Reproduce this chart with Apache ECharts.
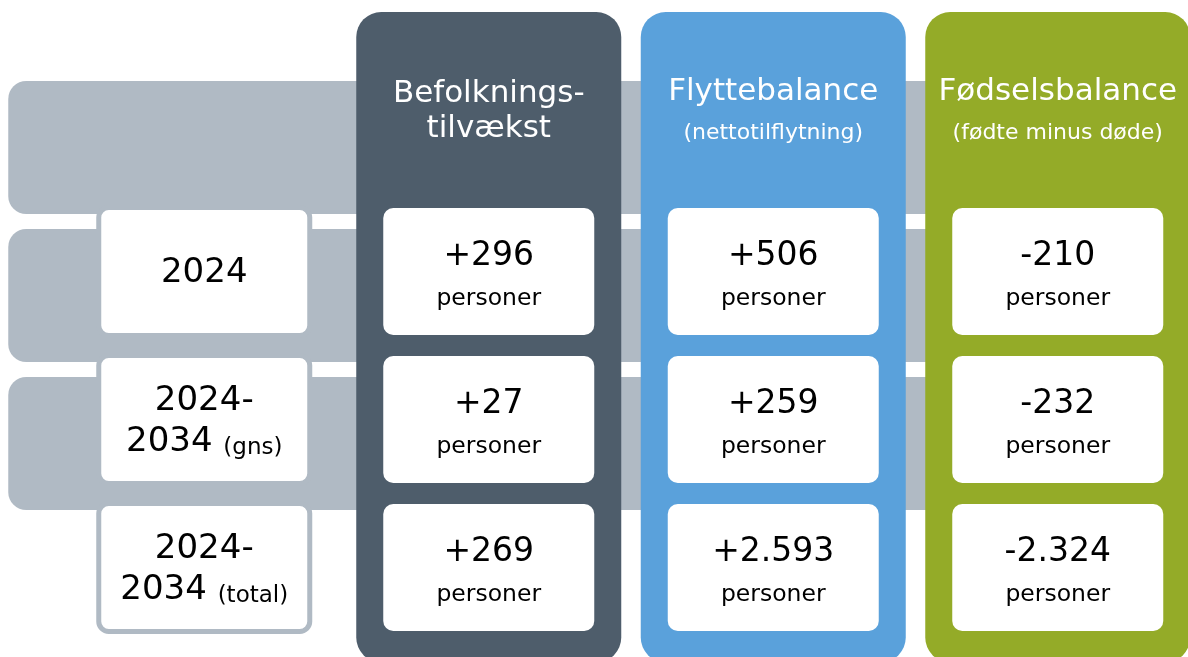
<!DOCTYPE html>
<html>
<head>
<meta charset="utf-8">
<script src="https://cdn.jsdelivr.net/npm/echarts@6/dist/echarts.min.js"></script>
<style>
html,body{margin:0;padding:0;background:#fff;}
#chart{width:1188px;height:657px;}
</style>
</head>
<body>
<div id="chart"></div>
<script>
// ---- data ----
const measures = ['Befolknings-\ntilvækst', 'Flyttebalance', 'Fødselsbalance'];
const subtitles = ['', '(nettotilflytning)', '(fødte minus døde)'];
const periods = ['2024', '2024-\n2034', '2024-\n2034'];
const periodNotes = ['', '(gns)', '(total)'];
const befolkningstilvaekst = [296, 27, 269];
const flyttebalance = [506, 259, 2593];
const foedselsbalance = [-210, -232, -2324];
const unitLabel = 'personer';

const columnColors = ['#4e5d6b', '#5aa1db', '#94ab28'];
const bandColor = '#b0bac4';
const FONT = 'DejaVu Sans';

const values = [befolkningstilvaekst, flyttebalance, foedselsbalance];
function fmt(v) {
  const s = Math.abs(v).toString().replace(/\B(?=(\d{3})+(?!\d))/g, '.');
  return (v >= 0 ? '+' : '-') + s;
}

// category axes: x = label column + 3 measures, y = header + 3 periods
const xCats = ['label'].concat(measures);
const yCats = ['header'].concat(periods.map((p, i) => p + ' ' + periodNotes[i]));

// data items
const bandData = [[0, 0], [0, 1], [0, 2]];
const columnData = measures.map((m, i) => [i + 1, 0]);
const labelData = periods.map((p, i) => [0, i + 1]);
const cellData = [];
values.forEach((arr, ci) => arr.forEach((v, ri) => cellData.push([ci + 1, ri + 1, v])));

const chart = echarts.init(document.getElementById('chart'), null, {renderer: 'canvas'});

chart.setOption({
  animation: false,
  backgroundColor: '#ffffff',
  grid: {left: 62, top: 49.5, width: 1138, height: 592, outerBoundsMode: 'none', containLabel: false},
  xAxis: {type: 'category', data: xCats, show: false},
  yAxis: {type: 'category', data: yCats, inverse: true, show: false},
  series: [
    {
      type: 'custom', name: 'bands', data: bandData, z: 1, clip: false,
      renderItem: function (params, api) {
        const row = api.value(1);
        const a = api.coord([0, row]);
        const b = api.coord([3, row]);
        const x0 = a[0] - 196, y0 = a[1] - 42.5;
        return {
          type: 'rect',
          shape: {x: x0, y: y0, width: b[0] - x0, height: 133, r: [18, 0, 0, 18]},
          style: {fill: bandColor}
        };
      }
    },
    {
      type: 'custom', name: 'columns', data: columnData, z: 2, clip: false,
      renderItem: function (params, api) {
        const col = api.value(0);
        const top = api.coord([col, 0]);
        const bot = api.coord([col, 3]);
        const i = params.dataIndex;
        const children = [{
          type: 'rect',
          shape: {x: top[0] - 132.5, y: top[1] - 111.5, width: 265, height: (bot[1] + 95) - (top[1] - 111.5), r: 25},
          style: {fill: columnColors[i]}
        }];
        if (subtitles[i]) {
          children.push({type: 'text', x: top[0], y: top[1] - 32,
            style: {text: measures[i], fill: '#fff', font: '31px "' + FONT + '"', align: 'center', verticalAlign: 'middle'}});
          children.push({type: 'text', x: top[0], y: top[1] + 10,
            style: {text: subtitles[i], fill: '#fff', font: '22px "' + FONT + '"', align: 'center', verticalAlign: 'middle'}});
        } else {
          children.push({type: 'text', x: top[0], y: top[1] - 12,
            style: {text: measures[i], fill: '#fff', font: '31px "' + FONT + '"', lineHeight: 35, align: 'center', verticalAlign: 'middle'}});
        }
        return {type: 'group', children: children};
      }
    },
    {
      type: 'custom', name: 'periods', data: labelData, z: 3, clip: false,
      renderItem: function (params, api) {
        const c = api.coord([0, api.value(1)]);
        const i = params.dataIndex;
        const lines = periods[i].split('\n');
        const children = [{
          type: 'rect',
          shape: {x: c[0] - 105.5, y: c[1] - 64, width: 211, height: 128, r: 10},
          style: {fill: '#fff', stroke: bandColor, lineWidth: 5}
        }];
        if (lines.length === 1) {
          children.push({type: 'text', x: c[0], y: c[1] + 2,
            style: {text: lines[0], fill: '#000', font: '34px "' + FONT + '"', align: 'center', verticalAlign: 'middle'}});
        } else {
          children.push({type: 'text', x: c[0], y: c[1] - 18,
            style: {text: lines[0], fill: '#000', font: '34px "' + FONT + '"', align: 'center', verticalAlign: 'middle'}});
          children.push({type: 'text', x: c[0], y: c[1] + 20,
            style: {
              text: '{b|' + lines[1] + ' }{s|' + periodNotes[i] + '}',
              align: 'center', verticalAlign: 'middle',
              rich: {
                b: {fontFamily: FONT, fontSize: 34, fill: '#000', verticalAlign: 'bottom', lineHeight: 40},
                s: {fontFamily: FONT, fontSize: 23, fill: '#000', verticalAlign: 'bottom', lineHeight: 36}
              }
            }});
        }
        return {type: 'group', children: children};
      }
    },
    {
      type: 'custom', name: 'values', data: cellData, z: 4, clip: false,
      renderItem: function (params, api) {
        const c = api.coord([api.value(0), api.value(1)]);
        const v = api.value(2);
        return {type: 'group', children: [
          {type: 'rect', shape: {x: c[0] - 105.5, y: c[1] - 63.5, width: 211, height: 127, r: 10}, style: {fill: '#fff'}},
          {type: 'text', x: c[0], y: c[1] - 15,
            style: {text: fmt(v), fill: '#000', font: '33px "' + FONT + '"', align: 'center', verticalAlign: 'middle'}},
          {type: 'text', x: c[0], y: c[1] + 27,
            style: {text: unitLabel, fill: '#000', font: '23.5px "' + FONT + '"', align: 'center', verticalAlign: 'middle'}}
        ]};
      }
    }
  ]
});
</script>
</body>
</html>
